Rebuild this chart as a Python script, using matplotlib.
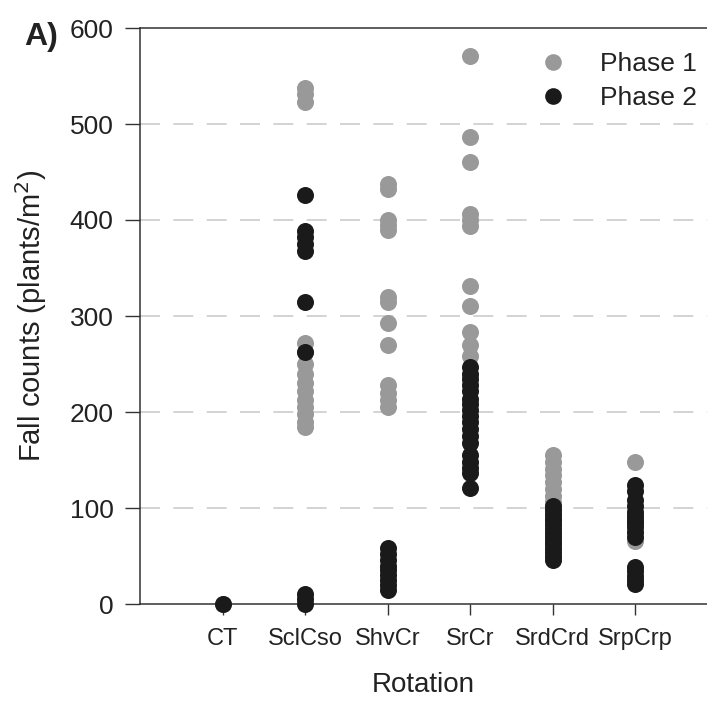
import matplotlib
matplotlib.use("Agg")
import matplotlib.pyplot as plt
from matplotlib.lines import Line2D

plt.rcParams['font.family'] = ['Liberation Sans', 'DejaVu Sans']

categories = ["CT", "SclCso", "ShvCr", "SrCr", "SrdCrd", "SrpCrp"]

phase1 = {
    "CT": [0],
    "SclCso": [538, 531, 523, 272, 262, 250, 240, 230, 222, 213, 205, 198, 190, 184],
    "ShvCr": [438, 432, 400, 395, 390, 320, 315, 293, 270, 228, 220, 213, 205],
    "SrCr": [571, 486, 460, 406, 400, 394, 331, 310, 283, 270, 258],
    "SrdCrd": [155, 148, 141, 134, 127, 120, 113, 106],
    "SrpCrp": [148, 66],
}
phase2 = {
    "CT": [0],
    "SclCso": [426, 389, 382, 375, 368, 315, 262, 10, 5, 0],
    "ShvCr": [58, 52, 46, 40, 35, 30, 25, 20, 15],
    "SrCr": [247, 240, 234, 228, 222, 214, 208, 202, 196, 190, 182, 175, 168, 155, 148, 142, 136, 121],
    "SrdCrd": [102, 98, 94, 90, 86, 82, 78, 74, 70, 66, 62, 58, 54, 50, 46],
    "SrpCrp": [124, 118, 108, 102, 96, 92, 88, 84, 80, 75, 70, 39, 34, 29, 25, 21],
}
yticks = [0, 100, 200, 300, 400, 500, 600]

gray = "#999999"
black = "#1a1a1a"
txt = "#222222"

fig = plt.figure(figsize=(7.07, 7.02), dpi=100)
ax = fig.add_axes([140/707, 98/702, 567/707, 576/702])

for i, c in enumerate(categories, start=1):
    ax.scatter([i]*len(phase1[c]), phase1[c], s=150, color=gray, zorder=3, linewidths=0, clip_on=False)
for i, c in enumerate(categories, start=1):
    ax.scatter([i]*len(phase2[c]), phase2[c], s=150, color=black, zorder=4, linewidths=0, clip_on=False)

ax.set_xlim(0, 567/82.5)
ax.set_ylim(0, 600)
ax.set_xticks(range(1, len(categories)+1))
ax.set_xticklabels(categories, fontsize=17)
ax.set_yticks(yticks)
ax.set_yticklabels([str(t) for t in yticks], fontsize=19)
ax.tick_params(axis='y', direction='out', length=11, width=1, pad=8, colors='#333333')
ax.tick_params(axis='x', direction='out', length=8, width=1, pad=9, colors='#333333')
for t in ax.get_xticklabels() + ax.get_yticklabels():
    t.set_color(txt)

for y in yticks[1:-1]:
    ax.axhline(y, color='#cccccc', lw=1.2, ls=(0, (12, 8)), zorder=1)

ax.spines['right'].set_visible(False)
for s in ['left', 'bottom', 'top']:
    ax.spines[s].set_linewidth(1.1)
    ax.spines[s].set_color('#333333')

ax.set_ylabel("Fall counts (plants/m$^2$)", fontsize=21, labelpad=15, color=txt)
ax.set_xlabel("Rotation", fontsize=20, labelpad=16, color=txt)

fig.text(24/707, 1-37/702, "A)", fontsize=23, fontweight='bold', va='center', ha='left', color=txt)

handles = [Line2D([], [], marker='o', ls='', color=gray, markersize=12, markeredgewidth=0),
           Line2D([], [], marker='o', ls='', color=black, markersize=12, markeredgewidth=0)]
ax.legend(handles, ["Phase 1", "Phase 2"], loc='upper left', bbox_to_anchor=(0.663, 0.976),
          frameon=False, fontsize=19, handletextpad=0.8, labelspacing=0.36, borderaxespad=0,
          labelcolor=txt)

fig.savefig("out.png", dpi=100)
